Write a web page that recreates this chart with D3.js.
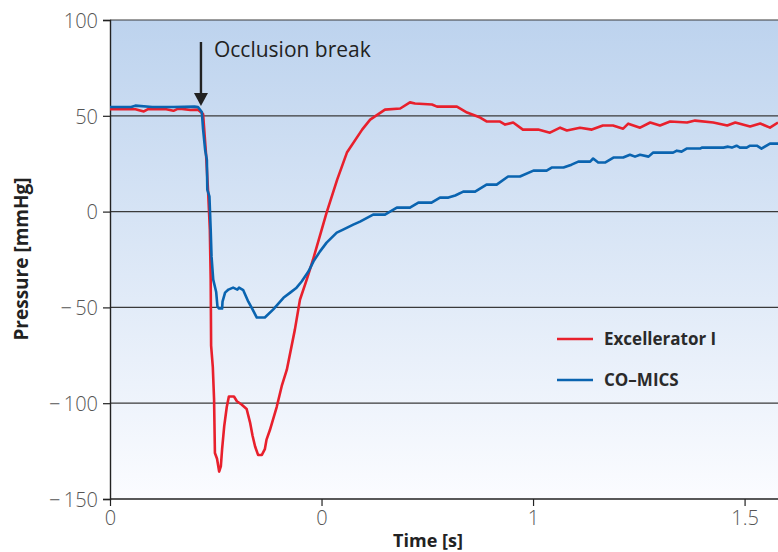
<!DOCTYPE html>
<html>
<head>
<meta charset="utf-8">
<script src="https://cdn.jsdelivr.net/npm/d3@7"></script>
<style>
  body { margin: 0; background: #fff; }
  svg { display: block; font-family: "Open Sans", "Noto Sans", sans-serif; }
</style>
</head>
<body>
<div id="app"></div>
<script>
const WIDTH = 778
const HEIGHT = 552
const margin = { top: 20, right: 0, bottom: 53, left: 110 }

// tick values and the labels printed on the original
const xTicks = [0, 0.5, 1, 1.5]
const xTickLabels = ['0', '0', '1', '1.5']
const yTicks = [-150, -100, -50, 0, 50, 100]
const gridLines = [-100, -50, 0, 50, 100]

// Excellerator I, time [s]
const redTime = [0, 0.03, 0.06, 0.08, 0.09, 0.1, 0.13, 0.15, 0.16, 0.17, 0.19, 0.208, 0.22, 0.227, 0.232, 0.236, 0.238, 0.239, 0.243, 0.246, 0.248, 0.253, 0.258, 0.262, 0.265, 0.27, 0.276, 0.281, 0.293, 0.3, 0.311, 0.323, 0.331, 0.337, 0.343, 0.35, 0.359, 0.366, 0.37, 0.378, 0.394, 0.406, 0.418, 0.437, 0.449, 0.465, 0.48, 0.512, 0.537, 0.56, 0.596, 0.615, 0.65, 0.686, 0.709, 0.721, 0.761, 0.773, 0.82, 0.844, 0.875, 0.891, 0.922, 0.934, 0.953, 0.976, 1.012, 1.04, 1.064, 1.08, 1.111, 1.139, 1.165, 1.189, 1.213, 1.225, 1.253, 1.277, 1.3, 1.324, 1.364, 1.383, 1.426, 1.459, 1.478, 1.513, 1.537, 1.56, 1.579]
// Excellerator I, pressure [mmHg]
const redValue = [53.5, 53.5, 53.4, 52.3, 53.5, 53.6, 53.5, 52.6, 53.6, 53.6, 53.0, 53.2, 51, 30, 10, -9.4, -35.5, -70, -81, -98, -126, -129, -135.7, -133, -124, -112, -102, -96.5, -96.5, -99, -100.7, -103, -110, -117, -122.6, -127, -127, -124, -119, -114, -102, -91, -82.5, -61.6, -46, -35.5, -25, -0.5, 16.7, 30.8, 42.8, 48, 53.2, 53.8, 57, 56.4, 55.9, 54.8, 54.8, 51.7, 49.1, 47, 47, 45.4, 46.5, 42.8, 42.8, 41.2, 43.8, 42.3, 43.8, 42.8, 44.9, 44.9, 43.3, 45.9, 43.8, 46.5, 44.9, 47, 46.5, 47.5, 46.5, 44.9, 46.5, 44.4, 46, 43.8, 46.5]

// CO-MICS, time [s]
const blueTime = [0, 0.05, 0.06, 0.1, 0.15, 0.2, 0.208, 0.217, 0.22, 0.225, 0.229, 0.23, 0.235, 0.238, 0.24, 0.244, 0.251, 0.254, 0.258, 0.265, 0.266, 0.272, 0.28, 0.291, 0.301, 0.305, 0.315, 0.327, 0.337, 0.347, 0.366, 0.386, 0.41, 0.426, 0.441, 0.453, 0.469, 0.481, 0.496, 0.512, 0.536, 0.551, 0.575, 0.591, 0.622, 0.65, 0.678, 0.709, 0.729, 0.76, 0.78, 0.8, 0.816, 0.835, 0.863, 0.89, 0.914, 0.941, 0.969, 1.001, 1.032, 1.044, 1.072, 1.091, 1.107, 1.135, 1.142, 1.154, 1.17, 1.19, 1.213, 1.229, 1.241, 1.253, 1.273, 1.284, 1.331, 1.34, 1.351, 1.363, 1.395, 1.399, 1.45, 1.461, 1.47, 1.481, 1.489, 1.505, 1.513, 1.529, 1.54, 1.56, 1.579]
// CO-MICS, pressure [mmHg]
const blueValue = [54.6, 54.6, 55.3, 54.6, 54.6, 54.8, 54.6, 52, 43, 32, 27, 11.5, 8, -9.4, -23.5, -35.5, -42, -49.6, -50.6, -50.6, -47, -42.3, -40.7, -39.7, -40.7, -39.7, -41, -47, -51, -55.3, -55.3, -51, -45, -42.3, -39.7, -36.5, -31.3, -26, -20.9, -16.2, -11, -9.4, -6.8, -5.2, -1.6, -1.6, 2.1, 2.1, 4.7, 4.7, 7.3, 7.3, 8.4, 10.4, 10.4, 14.1, 14.1, 18.3, 18.3, 21.4, 21.4, 23, 23, 24.5, 26.1, 26.1, 27.7, 25.6, 25.6, 28.2, 28.2, 29.7, 28.7, 29.7, 28.7, 30.8, 30.8, 31.8, 31.3, 32.9, 32.9, 33.4, 33.4, 33.9, 33.4, 34.4, 33.4, 33.4, 34.4, 34.4, 32.9, 35.5, 35.5]

const seriesNames = ['Excellerator I', 'CO\u2013MICS']
const seriesColors = ['#e8202c', '#0a64b0']

const x = d3.scaleLinear().domain([0, 1.579]).range([margin.left, WIDTH - margin.right])
const y = d3.scaleLinear().domain([-150, 100]).range([HEIGHT - margin.bottom, margin.top])

const svg = d3.select('#app').append('svg')
  .attr('width', WIDTH)
  .attr('height', HEIGHT)

const grad = svg.append('defs').append('linearGradient')
  .attr('id', 'bg')
  .attr('x1', 0).attr('y1', 0).attr('x2', 0).attr('y2', 1)
grad.append('stop').attr('offset', 0).attr('stop-color', '#bdd3ee')
grad.append('stop').attr('offset', 1).attr('stop-color', '#fbfcff')

svg.append('rect')
  .attr('x', x(0))
  .attr('y', y(100))
  .attr('width', x.range()[1] - x(0))
  .attr('height', y(-150) - y(100))
  .attr('fill', 'url(#bg)')

svg.append('g')
  .selectAll('line')
  .data(gridLines)
  .enter()
.append('line')
  .attr('x1', x(0))
  .attr('x2', x.range()[1])
  .attr('y1', d => y(d))
  .attr('y2', d => y(d))
  .attr('stroke', '#3a3a3a')
  .attr('stroke-width', 1.2)

// axes
const xAxis = svg.append('g')
  .attr('transform', `translate(0, ${y(-150)})`)
  .call(d3.axisBottom(x).tickValues(xTicks).tickSize(7).tickPadding(5)
    .tickFormat((d, i) => xTickLabels[i]))
const yAxis = svg.append('g')
  .attr('transform', `translate(${x(0)}, 0)`)
  .call(d3.axisLeft(y).tickValues(yTicks).tickSize(7).tickPadding(5)
    .tickFormat(d => d < 0 ? '\u2212\u2009' + Math.abs(d) : d))

for (const ax of [xAxis, yAxis]) {
  ax.select('.domain').attr('stroke', '#222').attr('stroke-width', 1.4)
  ax.selectAll('.tick line').attr('stroke', '#222').attr('stroke-width', 1.2)
  ax.selectAll('.tick text')
    .attr('fill', '#555')
    .style('font-size', '20px')
    .style('font-weight', 300)
    .style('font-family', '"Open Sans", sans-serif')
}
xAxis.select('.domain').attr('d', `M${x(0)},0H${x.range()[1]}`)
yAxis.selectAll('.tick text').attr('dy', '0.36em')

// lines
const line = d3.line()
  .x(d => x(d[0]))
  .y(d => y(d[1]))

const series = [
  d3.zip(redTime, redValue),
  d3.zip(blueTime, blueValue)
]

svg.append('g')
  .selectAll('path')
  .data(series)
  .enter()
.append('path')
  .attr('d', line)
  .attr('fill', 'none')
  .attr('stroke', (d, i) => seriesColors[i])
  .attr('stroke-width', 2.6)
  .attr('stroke-linejoin', 'round')

// occlusion break annotation
const tBreak = 0.215
svg.append('line')
  .attr('x1', x(tBreak)).attr('x2', x(tBreak))
  .attr('y1', 42).attr('y2', 94)
  .attr('stroke', '#222').attr('stroke-width', 2.4)
svg.append('path')
  .attr('d', `M${x(tBreak) - 7},93L${x(tBreak) + 7},93L${x(tBreak)},106Z`)
  .attr('fill', '#222')
svg.append('text')
  .attr('x', x(tBreak) + 13)
  .attr('y', 57)
  .attr('fill', '#222')
  .style('font-size', '21px')
  .text('Occlusion break')

// legend
const legend = svg.append('g')
  .selectAll('g')
  .data(seriesNames)
  .enter()
.append('g')
  .attr('transform', (d, i) => `translate(557, ${339 + i * 41})`)
legend.append('line')
  .attr('x2', 36)
  .attr('stroke', (d, i) => seriesColors[i])
  .attr('stroke-width', 2.6)
legend.append('text')
  .attr('x', 47)
  .attr('dy', '0.35em')
  .attr('fill', '#2a2a2a')
  .style('font-size', '17px')
  .style('font-weight', 700)
  .text(d => d)

// axis titles
svg.append('text')
  .attr('x', 428)
  .attr('y', 547)
  .attr('text-anchor', 'middle')
  .attr('fill', '#222')
  .style('font-size', '18px')
  .style('font-weight', 700)
  .text('Time [s]')
svg.append('text')
  .attr('transform', 'translate(28, 259) rotate(-90)')
  .attr('text-anchor', 'middle')
  .attr('fill', '#222')
  .style('font-size', '19px')
  .style('font-weight', 700)
  .text('Pressure [mmHg]')
</script>
</body>
</html>
